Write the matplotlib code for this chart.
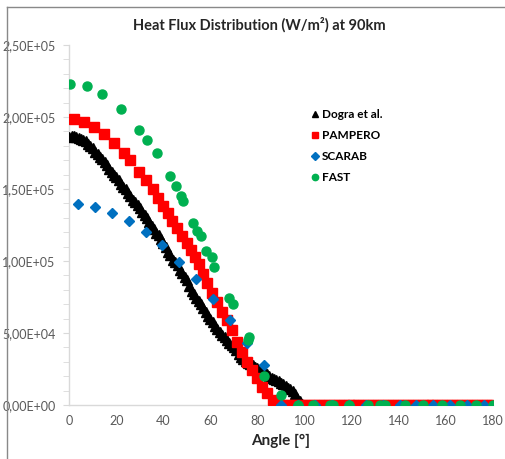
import matplotlib
matplotlib.use("Agg")
import matplotlib.pyplot as plt
from matplotlib.ticker import MultipleLocator, FuncFormatter
from matplotlib.lines import Line2D

plt.rcParams['font.family'] = ['Lato', 'DejaVu Sans']

# ---------------- data ----------------
dogra_x = list(range(0, 101)) + [110, 120, 130, 140, 150, 160, 170, 180]
dogra_y = [186000, 186500, 186500, 186000, 185500, 184500, 184000, 183500, 181500, 180000,
           178500, 176000, 174000, 172000, 170500, 169000, 167000, 164000, 161500, 159500,
           158000, 156000, 153500, 151500, 150000, 147500, 145000, 142500, 141000, 139000,
           136500, 134000, 132000, 130000, 127000, 124500, 122000, 119500, 118000, 115500,
           112500, 109500, 106500, 104000, 101000, 99000, 97000, 94000, 91500, 89000,
           86500, 82500, 79500, 77000, 74500, 72000, 70000, 67500, 64500, 62000,
           60000, 57500, 55000, 52500, 50500, 48500, 47000, 45000, 43000, 41500,
           40000, 38000, 35500, 33500, 32000, 30500, 29500, 28500, 27500, 26500,
           25500, 25000, 24000, 23000, 21500, 20000, 19000, 18000, 17500, 16500,
           15500, 14500, 13000, 12000, 11000, 9500, 7500, 5000, 3000, 1000,
           0, 0, 0, 0, 0, 0, 0, 0, 0]

pampero_x = [2.0, 6.3, 10.5, 14.9, 19.1, 23.3, 25.9, 29.8, 32.6, 35.5,
             37.6, 39.7, 41.8, 43.8, 45.7, 47.8, 49.9, 51.7, 53.4, 55.1,
             56.9, 58.4, 60.5, 62.7, 64.8, 66.9, 69.0, 71.2, 73.3, 75.4,
             77.6, 79.7, 81.8, 83.9, 86.7, 89.3, 91.4, 93.5, 95.6, 97.7,
             99.8, 101.9, 104.0, 106.1, 108.2, 110.3, 112.4, 114.5, 116.6, 118.7,
             120.8, 122.9, 125.0, 127.1, 129.2, 131.3, 133.4, 135.5, 137.6, 139.7,
             141.8, 143.9, 146.0, 148.1, 150.2, 152.3, 154.4, 156.5, 158.6, 160.7,
             162.8, 164.9, 167.0, 169.1, 171.2, 173.3, 175.4, 177.5, 179.6]
pampero_y = [198400, 196700, 193300, 188000, 181600, 175000, 170300, 162100, 156500, 150100,
             144000, 138200, 133100, 127800, 122700, 117400, 112300, 107600, 103000, 97600,
             91300, 84500, 77600, 71700, 64800, 59000, 52100, 44000, 37000, 30100,
             24300, 18500, 12700, 8100, 3500, 0, 0, 0, 0, 0,
             0, 0, 0, 0, 0, 0, 0, 0, 0, 0,
             0, 0, 0, 0, 0, 0, 0, 0, 0, 0,
             0, 0, 0, 0, 0, 0, 0, 0, 0, 0,
             0, 0, 0, 0, 0, 0, 0, 0, 0]

scarab_x = [3.6, 10.8, 18.0, 25.2, 32.4, 39.6, 46.8, 54.0, 61.2, 68.4,
            75.6, 82.8, 90.0, 97.2, 104.4, 111.6, 118.8, 126.0, 133.2, 140.4,
            147.6, 154.8, 162.0, 169.2, 176.4]
scarab_y = [139400, 137700, 133500, 127900, 120000, 110800, 99500, 87400, 73600, 59200,
            43400, 28100, 0, 0, 0, 0, 0, 0, 0, 0,
            0, 0, 0, 0, 0]

fast_x = [0.3, 7.4, 13.9, 22.1, 29.6, 33.2, 37.4, 43.0, 45.2, 47.4,
          48.5, 52.8, 54.2, 56.0, 58.3, 60.7, 61.7, 68.0, 69.5, 75.9,
          76.5, 82.9, 90.0, 97.1, 103.7, 110.8, 112.2, 118.9, 126.9, 132.1,
          134.2, 142.7, 150.5, 158.3, 166.1, 172.9, 180.0]
fast_y = [222700, 221500, 215700, 205700, 191000, 184200, 175200, 159000, 152400, 145100,
          141700, 126700, 120800, 117400, 107100, 102800, 96000, 74100, 70100, 45100,
          47000, 20100, 6900, 0, 0, 0, 0, 0, 0, 0,
          0, 0, 0, 0, 0, 0, 0]

series_names = ["Dogra et al.", "PAMPERO", "SCARAB", "FAST"]
x_ticks = [0, 20, 40, 60, 80, 100, 120, 140, 160, 180]

# ---------------- figure ----------------
W, H = 505, 459
fig = plt.figure(figsize=(W / 100, H / 100), dpi=100)
ax = fig.add_axes([69.3 / W, 1 - 405 / H, (492.7 - 69.3) / W, 360 / H])

ax.plot(dogra_x, dogra_y, linestyle='none', marker='^', markersize=7,
        color='black', label=series_names[0], zorder=3)
ax.plot(pampero_x, pampero_y, linestyle='none', marker='s', markersize=6.8,
        color='#FF0000', label=series_names[1], zorder=4)
ax.plot(scarab_x, scarab_y, linestyle='none', marker='D', markersize=5.3,
        color='#0070C0', label=series_names[2], zorder=5)
ax.plot(fast_x, fast_y, linestyle='none', marker='o', markersize=6.5,
        color='#00B050', label=series_names[3], zorder=6)

ax.set_xlim(0, 180)
ax.set_ylim(0, 250000)
ax.set_xticks(x_ticks)
ax.yaxis.set_major_locator(MultipleLocator(50000))
ax.yaxis.set_minor_locator(MultipleLocator(10000))


def sci_comma(v, pos):
    s = "%.2E" % v
    return s.replace('.', ',')


ax.yaxis.set_major_formatter(FuncFormatter(sci_comma))

for s in ['top', 'right']:
    ax.spines[s].set_visible(False)
for s in ['left', 'bottom']:
    ax.spines[s].set_color('#d9d9d9')
    ax.spines[s].set_linewidth(1.0)
    ax.spines[s].set_zorder(1)

ax.tick_params(axis='y', which='both', direction='out', color='#d9d9d9',
               labelcolor='#595959', labelsize=9, pad=6)
ax.tick_params(axis='y', which='major', length=4)
ax.tick_params(axis='y', which='minor', length=4)
ax.tick_params(axis='x', which='both', length=0, labelcolor='#595959',
               labelsize=9, pad=7)

ax.set_xlabel("Angle [°]", fontsize=11, fontweight='bold', color='#262626', labelpad=5)

fig.text(259 / W, 1 - 25 / H, "Heat Flux Distribution (W/m²) at 90km",
         ha='center', va='center', fontsize=10.5, fontweight='bold', color='#262626')

leg = ax.legend(loc='upper left', bbox_to_anchor=(311 / W, 1 - 109 / H),
                bbox_transform=fig.transFigure, frameon=False,
                prop={'weight': 'bold', 'size': 8.5}, handlelength=0.6,
                handletextpad=0.35, labelspacing=0.85, markerscale=0.7,
                borderaxespad=0, borderpad=0)

# chart-area border (top and left edges visible in the crop)
fig.add_artist(Line2D([7 / W, 7 / W], [0, 1 - 7 / H], transform=fig.transFigure,
                      color='#898989', linewidth=1.0))
fig.add_artist(Line2D([7 / W, 1], [1 - 7 / H, 1 - 7 / H], transform=fig.transFigure,
                      color='#898989', linewidth=1.0))

fig.savefig("out.png", dpi=100)
